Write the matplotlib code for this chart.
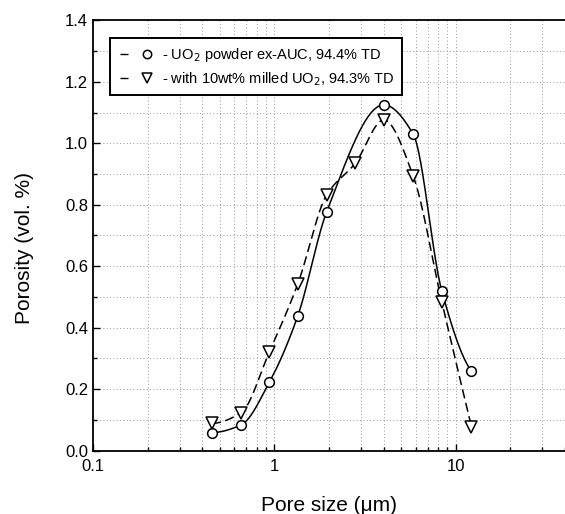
import numpy as np
import matplotlib
matplotlib.use("Agg")
import matplotlib.pyplot as plt
from matplotlib.lines import Line2D
from matplotlib.legend_handler import HandlerTuple
from matplotlib.ticker import LogLocator, MultipleLocator, FixedLocator, FixedFormatter, NullFormatter

plt.rcParams['font.family'] = ['Liberation Sans', 'DejaVu Sans']

# Data
size_auc = [0.452, 0.656, 0.939, 1.345, 1.942, 4.01, 5.82, 8.37, 12.2]
por_auc = [0.059, 0.084, 0.223, 0.438, 0.777, 1.125, 1.030, 0.520, 0.259]

size_mill = [0.452, 0.656, 0.939, 1.345, 1.942, 2.79, 4.01, 5.82, 8.37, 12.2]
por_mill = [0.089, 0.124, 0.322, 0.542, 0.832, 0.935, 1.076, 0.894, 0.485, 0.078]

label_auc = '- UO$_2$ powder ex-AUC, 94.4% TD'
label_mill = '- with 10wt% milled UO$_2$, 94.3% TD'
x_ticks = [0.1, 1, 10]
x_ticklabels = ['0.1', '1', '10']


def pchip(x, y, xs):
    x = np.asarray(x, float); y = np.asarray(y, float)
    h = np.diff(x)
    delta = np.diff(y) / h
    n = len(x)
    d = np.zeros(n)
    for k in range(1, n - 1):
        if delta[k - 1] * delta[k] > 0:
            w1 = 2 * h[k] + h[k - 1]
            w2 = h[k] + 2 * h[k - 1]
            d[k] = (w1 + w2) / (w1 / delta[k - 1] + w2 / delta[k])
    def end(h0, h1, d0, d1):
        dd = ((2 * h0 + h1) * d0 - h0 * d1) / (h0 + h1)
        if np.sign(dd) != np.sign(d0):
            dd = 0
        elif np.sign(d0) != np.sign(d1) and abs(dd) > abs(3 * d0):
            dd = 3 * d0
        return dd
    d[0] = end(h[0], h[1], delta[0], delta[1])
    d[-1] = end(h[-1], h[-2], delta[-1], delta[-2])
    idx = np.clip(np.searchsorted(x, xs) - 1, 0, n - 2)
    t = (xs - x[idx]) / h[idx]
    h00 = 2 * t**3 - 3 * t**2 + 1
    h10 = t**3 - 2 * t**2 + t
    h01 = -2 * t**3 + 3 * t**2
    h11 = t**3 - t**2
    return h00 * y[idx] + h10 * h[idx] * d[idx] + h01 * y[idx + 1] + h11 * h[idx] * d[idx + 1]


fig = plt.figure(figsize=(5.65, 5.14), dpi=100)
ax = fig.add_axes([0.1646, 0.1232, 1.0 - 0.1646, 0.9605 - 0.1232])

for xs_, ys_, ls in [(size_auc, por_auc, '-'), (size_mill, por_mill, '--')]:
    lx = np.log10(xs_)
    fine = np.linspace(lx[0], lx[-1], 400)
    line, = ax.plot(10 ** fine, pchip(lx, ys_, fine), color='black', lw=1.1)
    if ls == '--':
        line.set_dashes((6, 3))

ax.plot(size_auc, por_auc, ls='none', marker='o', ms=7, mfc='white', mec='black', mew=1.1, zorder=3)
ax.plot(size_mill, por_mill, ls='none', marker='v', ms=8, mfc='white', mec='black', mew=1.1, zorder=3)

ax.set_xscale('log')
ax.set_xlim(0.1, 40)
ax.set_ylim(0, 1.4)
ax.xaxis.set_major_locator(FixedLocator(x_ticks))
ax.xaxis.set_major_formatter(FixedFormatter(x_ticklabels))
ax.xaxis.set_minor_locator(LogLocator(base=10, subs=np.arange(2, 10)))
ax.xaxis.set_minor_formatter(NullFormatter())
ax.yaxis.set_major_locator(MultipleLocator(0.2))
ax.yaxis.set_minor_locator(MultipleLocator(0.1))
ax.yaxis.set_major_formatter(plt.FuncFormatter(lambda v, p: f'{v:.1f}'))

ax.tick_params(which='both', direction='in', labelsize=12, width=1)
ax.tick_params(which='major', length=5)
ax.tick_params(which='minor', length=3)
ax.tick_params(axis='x', pad=6)
ax.grid(which='both', ls=(0, (1, 3)), color='#777777', lw=0.6)
ax.set_axisbelow(True)
for s in ['left', 'bottom', 'top']:
    ax.spines[s].set_linewidth(1.3)
ax.spines['right'].set_visible(False)

ax.set_xlabel('Pore size (μm)', fontsize=15, labelpad=16)
ax.set_ylabel('Porosity (vol. %)', fontsize=15, labelpad=10)
ax.yaxis.set_label_coords(-0.125, 0.47)

dash = dict(ls='none', marker='_', ms=6, mec='black', mew=1)
h1 = (Line2D([], [], **dash), Line2D([], [], ls='none', marker='o', ms=6, mfc='white', mec='black', mew=1.1))
h2 = (Line2D([], [], **dash), Line2D([], [], ls='none', marker='v', ms=7, mfc='white', mec='black', mew=1.1))
leg = ax.legend([h1, h2], [label_auc, label_mill], handler_map={tuple: HandlerTuple(ndivide=None, pad=0.8)},
                loc='upper left', bbox_to_anchor=(0.037, 0.958), borderaxespad=0,
                fancybox=False, framealpha=1, edgecolor='black', fontsize=10.5,
                handlelength=2.4, handletextpad=0.6, labelspacing=0.45, borderpad=0.5)
leg.get_frame().set_linewidth(1.4)

fig.savefig('out.png', dpi=100)
